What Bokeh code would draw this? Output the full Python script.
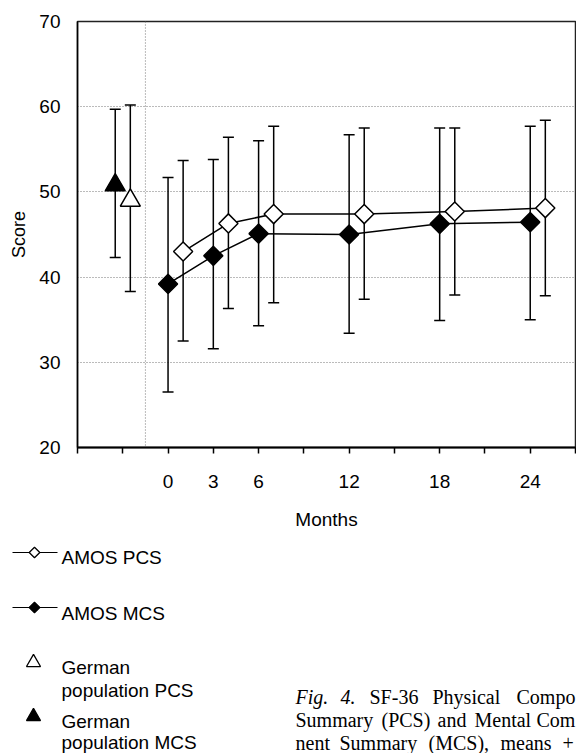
import math
from bokeh.plotting import figure
from bokeh.models import Range1d, FixedTicker, Span
from bokeh.layouts import column
from bokeh.embed import file_html
from bokeh.resources import INLINE
from bokeh.core.properties import value

# ---------------- data ----------------
PCS_MONTHS = [1, 4, 7, 13, 19, 25]
PCS_MEAN = [43.0, 46.3, 47.4, 47.4, 47.7, 48.1]
PCS_UPPER = [53.7, 56.4, 57.7, 57.5, 57.5, 58.4]
PCS_LOWER = [32.5, 36.3, 37.0, 37.4, 37.9, 37.8]

MCS_MONTHS = [0, 3, 6, 12, 18, 24]
MCS_MEAN = [39.2, 42.5, 45.1, 45.0, 46.25, 46.45]
MCS_UPPER = [51.7, 53.8, 56.0, 56.7, 57.5, 57.7]
MCS_LOWER = [26.5, 31.6, 34.3, 33.4, 34.9, 35.0]

GER_PCS_X = [-2.5]
GER_PCS_MEAN = [49.0]
GER_PCS_UPPER = [60.2]
GER_PCS_LOWER = [38.3]

GER_MCS_X = [-3.5]
GER_MCS_MEAN = [50.8]
GER_MCS_UPPER = [59.7]
GER_MCS_LOWER = [42.3]

X_TICKS = [-6, -3, 0, 3, 6, 9, 12, 15, 18, 21, 24, 27]
X_TICK_LABELS = ["", "", "0", "3", "6", "", "12", "", "18", "", "24", ""]
Y_TICKS = [20, 30, 40, 50, 60, 70]
SEPARATOR_X = -1.5

LEGEND_LABELS = ["AMOS PCS", "AMOS MCS", "German", "population PCS", "German", "population MCS"]
CAPTION_LINES = [
    ["Fig.", "4.", "SF-36", "Physical", "Compo"],
    ["Summary", "(PCS)", "and", "Mental", "Com"],
    ["nent", "Summary", "(MCS),", "means", "+"],
]

SANS = "Liberation Sans"
SERIF = "Liberation Serif"

# ---------------- chart ----------------
W = 576
H1, H2 = 540, 213
FRAME_L, FRAME_R, FRAME_T, FRAME_B = 77, 575, 21, 447

p = figure(width=W, height=H1, x_range=Range1d(-6, 27), y_range=Range1d(20, 70),
           output_backend="svg", toolbar_location=None,
           min_border_left=FRAME_L, min_border_top=FRAME_T,
           min_border_right=W - FRAME_R, min_border_bottom=H1 - FRAME_B)
p.frame_align = False
p.background_fill_color = "white"
p.border_fill_color = "white"
p.outline_line_color = "#222222"
p.outline_line_width = 1.5

p.xaxis.ticker = FixedTicker(ticks=X_TICKS)
p.xaxis.major_label_overrides = {t: l for t, l in zip(X_TICKS, X_TICK_LABELS)}
p.xaxis.major_tick_in = 0
p.xaxis.major_tick_out = 6
p.xaxis.minor_tick_line_color = None
p.xaxis.axis_line_width = 2
p.xaxis.major_tick_line_width = 1.5
p.xaxis.axis_label = "Months"
p.xaxis.major_label_standoff = 21
p.xaxis.axis_label_standoff = 18

p.yaxis.ticker = FixedTicker(ticks=Y_TICKS)
p.yaxis.major_tick_in = 0
p.yaxis.major_tick_out = 0
p.yaxis.minor_tick_line_color = None
p.yaxis.axis_line_width = 1.5
p.yaxis.axis_label = "Score"
p.yaxis.major_label_standoff = 17
p.yaxis.axis_label_standoff = 7

for ax in (p.xaxis, p.yaxis):
    ax.major_label_text_font = SANS
    ax.major_label_text_font_size = "19px"
    ax.major_label_text_color = "black"
    ax.axis_label_text_font = SANS
    ax.axis_label_text_font_style = "normal"
    ax.axis_label_text_color = "black"
    ax.axis_line_color = "black"
    ax.major_tick_line_color = "black"
p.xaxis.axis_label_text_font_size = "19px"
p.yaxis.axis_label_text_font_size = "18px"

p.xgrid.visible = False
p.ygrid.ticker = FixedTicker(ticks=Y_TICKS)
p.ygrid.grid_line_color = "#777777"
p.ygrid.grid_line_dash = "1 2"
p.ygrid.grid_line_width = 1

p.add_layout(Span(location=SEPARATOR_X, dimension="height", line_color="#777777",
                  line_dash="1 2", line_width=1, level="underlay"))

CAP = 11
def errorbars(xs, lo, hi):
    p.segment(x0=xs, y0=lo, x1=xs, y1=hi, line_color="black", line_width=1.5)
    p.scatter(x=xs, y=hi, marker="dash", size=CAP, line_color="black", line_width=1.5)
    p.scatter(x=xs, y=lo, marker="dash", size=CAP, line_color="black", line_width=1.5)

errorbars(GER_MCS_X, GER_MCS_LOWER, GER_MCS_UPPER)
errorbars(GER_PCS_X, GER_PCS_LOWER, GER_PCS_UPPER)
errorbars(MCS_MONTHS, MCS_LOWER, MCS_UPPER)
errorbars(PCS_MONTHS, PCS_LOWER, PCS_UPPER)

p.line(PCS_MONTHS, PCS_MEAN, line_color="black", line_width=1.5)
p.line(MCS_MONTHS, MCS_MEAN, line_color="black", line_width=1.5)

p.scatter(PCS_MONTHS, PCS_MEAN, marker="square", angle=math.pi / 4, size=13.5,
          fill_color="white", line_color="black", line_width=1.5)
p.scatter(MCS_MONTHS, MCS_MEAN, marker="square", angle=math.pi / 4, size=13.5,
          fill_color="black", line_color="black", line_width=1.5)
p.scatter(GER_MCS_X, GER_MCS_MEAN, marker="triangle", size=20,
          fill_color="black", line_color="black", line_width=1.5)
p.scatter(GER_PCS_X, GER_PCS_MEAN, marker="triangle", size=20,
          fill_color="white", line_color="black", line_width=1.5)

# ---------------- legend + caption panel (pixel space of the page) ----------------
q = figure(width=W, height=H2, x_range=Range1d(0, W), y_range=Range1d(H1 + H2, H1),
           output_backend="svg", toolbar_location=None, min_border=0)
q.frame_align = False
q.outline_line_color = None
q.background_fill_color = "white"
q.border_fill_color = "white"
q.axis.visible = False
q.grid.visible = False

q.segment(x0=[12, 12], y0=[552, 607], x1=[57, 57], y1=[552, 607], line_color="black", line_width=1.2)
q.scatter([34], [552], marker="square", angle=math.pi / 4, size=7.5,
          fill_color="white", line_color="black", line_width=1.3)
q.scatter([34], [607], marker="square", angle=math.pi / 4, size=7.5,
          fill_color="black", line_color="black", line_width=1.3)
q.scatter([33], [662], marker="triangle", size=14, fill_color="white", line_color="black", line_width=1.3)
q.scatter([33], [716], marker="triangle", size=14, fill_color="black", line_color="black", line_width=1.3)

q.text(x=[61] * 6, y=[557, 613, 667, 690, 721, 742], text=LEGEND_LABELS,
       text_font=value(SANS), text_font_size="19px", text_color="black",
       text_baseline="alphabetic", text_align="left")

cap_x = [
    [295, 340, 369, 432, 516],
    [295, 381, 437, 474, 536],
    [295, 339, 428, 500, 562],
]
cap_base = [696, 719, 742]
for li, words in enumerate(CAPTION_LINES):
    xs = cap_x[li]
    ys = [cap_base[li]] * len(words)
    if li == 0:
        q.text(x=xs[:2], y=ys[:2], text=words[:2], text_font=value(SERIF), text_font_style="italic",
               text_font_size="20px", text_color="black", text_baseline="alphabetic")
        q.text(x=xs[2:], y=ys[2:], text=words[2:], text_font=value(SERIF),
               text_font_size="20px", text_color="black", text_baseline="alphabetic")
    else:
        q.text(x=xs, y=ys, text=words, text_font=value(SERIF),
               text_font_size="20px", text_color="black", text_baseline="alphabetic")

layout = column(p, q, spacing=0)
open("out.html", "w").write(file_html(layout, INLINE))
